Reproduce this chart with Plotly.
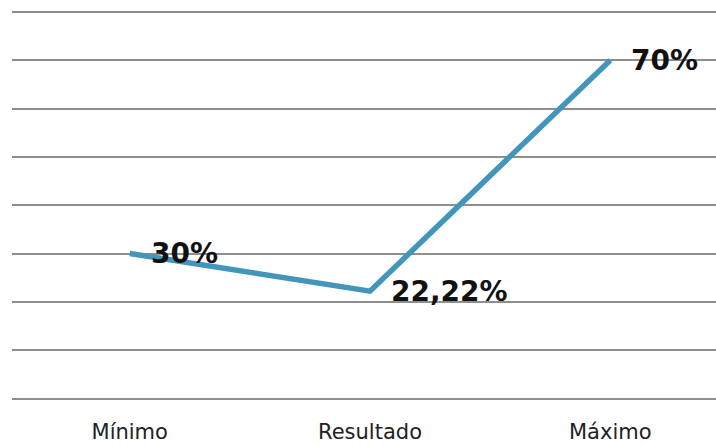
import plotly.graph_objects as go

# data
categories = ["Mínimo", "Resultado", "Máximo"]
values = [30, 22.22, 70]
value_labels = ["30%", "22,22%", "70%"]

LINE_COLOR = "#4396BB"
GRID_COLOR = "#8E8E8E"

fig = go.Figure()

fig.add_trace(go.Scatter(
    x=[0, 1, 2],
    y=values,
    mode="lines",
    line=dict(color=LINE_COLOR, width=5.5),
    hoverinfo="skip",
    showlegend=False,
))

# value labels sit just to the right of each point
for i, (v, lbl) in enumerate(zip(values, value_labels)):
    fig.add_annotation(
        x=i, y=v, text=lbl, showarrow=False,
        xanchor="left", yanchor="middle", xshift=19,
        font=dict(family="DejaVu Sans", size=28, color="#111111", weight="bold"),
    )

fig.update_layout(
    width=716, height=445,
    margin=dict(l=12, r=0, t=7, b=45),
    plot_bgcolor="white",
    paper_bgcolor="white",
    xaxis=dict(
        range=[-0.49, 2.44],
        tickvals=[0, 1, 2],
        ticktext=categories,
        showgrid=False, zeroline=False, showline=False,
        ticks="", ticklabelstandoff=17, automargin=False,
        tickfont=dict(family="DejaVu Sans", size=21, color="#222222"),
    ),
    yaxis=dict(
        range=[-0.3, 81],
        tickvals=[0, 10, 20, 30, 40, 50, 60, 70, 80],
        showgrid=True, gridcolor=GRID_COLOR, gridwidth=2,
        zeroline=True, zerolinecolor=GRID_COLOR, zerolinewidth=2,
        showticklabels=False, ticks="", showline=False, automargin=False,
    ),
)

# the page body has a default 8px margin; drop it so the chart fills the window
fig.write_html(
    "out.html",
    config={"displayModeBar": False},
    post_script="document.body.style.margin='0';",
)
